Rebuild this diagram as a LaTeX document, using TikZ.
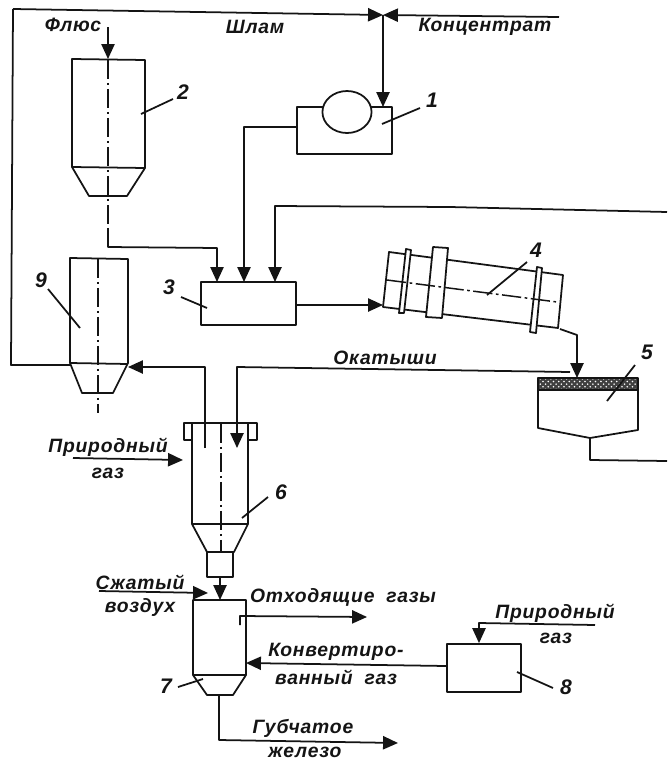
\documentclass[tikz,border=0pt]{standalone}
\usepackage{fontspec}
\newfontfamily\schemefont[LetterSpace=4]{Liberation Sans}
\usetikzlibrary{arrows.meta,patterns}
\tikzset{
  flow/.style={-{Triangle[length=8.5pt,width=7.5pt]}},
  axisline/.style={line width=0.85pt, dash pattern=on 11pt off 2pt on 1.5pt off 2pt},
  unit/.style={draw, inner sep=0pt, fill=white},
  tag/.style={font=\schemefont\bfseries\itshape\fontsize{11}{12}\selectfont, inner sep=0pt},
  num/.style={font=\schemefont\bfseries\itshape\fontsize{12}{12}\selectfont, inner sep=0pt}
}
\begin{document}
\begin{tikzpicture}[x=0.02cm, y=-0.02cm, line width=1pt, line join=round, color=black!92]
  \useasboundingbox (0,0) rectangle (667,761);
  % 2 : flux hopper
  \draw (72,59) -- (145,60) -- (145,168) -- (127,196) -- (89,196) -- (72,167) -- cycle;
  \draw (72,167) -- (145,168);
  \draw[axisline] (108,60) -- (108,228);
  \node[tag] (flux) at (73,25) {Флюс};
  \coordinate (fluxin) at (108,27);
  \coordinate (hoppertop) at (108,59);
  \draw[flow] (fluxin) -- (hoppertop);
  \node[num] (n2) at (183,92) {2};
  \coordinate (n2end) at (141,114);
  \draw (n2end) -- (173,99);
  % 9 : slurry hopper
  \draw (70,258) -- (128,259) -- (128,363) -- (113,393) -- (82,393) -- (70,363) -- cycle;
  \draw (70,363) -- (128,364);
  \draw[axisline] (98,259) -- (98,413);
  \node[num] (n9) at (41,280) {9};
  \coordinate (n9end) at (80,328);
  \draw (48,289) -- (n9end);
  % 1 : drum on its base
  \node[unit, minimum width=1.9cm, minimum height=0.94cm] (box1) at (344.5,130.5) {};
  \node[draw, fill=white, circle, inner sep=0pt, minimum size=0.84cm, xscale=1.17] (drum) at (347,112) {};
  \node[num] (n1) at (432,100) {1};
  \coordinate (n1end) at (382,124);
  \draw (n1end) -- (420,108);
  % 3 : mixer
  \node[unit, minimum width=1.9cm, minimum height=0.86cm] (box3) at (248.5,303.5) {};
  \node[num] (n3) at (169,287) {3};
  \coordinate (n3end) at (207,308);
  \draw (181,297) -- (n3end);
  % 4 : rotary kiln, tilted
  \draw (389,252) -- (563,275) -- (558,328) -- (383,307) -- cycle;
  \draw[unit] (406,249) -- (411,250) -- (404,313) -- (399,313) -- cycle;
  \draw[unit] (433,247) -- (448,248) -- (442,318) -- (426,317) -- cycle;
  \draw[unit] (537,267) -- (542,268) -- (536,333) -- (530,332) -- cycle;
  \draw[axisline] (387,280) -- (557,302);
  \node[num] (n4) at (536,250) {4};
  \coordinate (n4end) at (487,295);
  \draw (n4end) -- (527,262);
  % 5 : sintering machine, hatched strip on top
  \draw (538,390) -- (538,428) -- (590,438) -- (638,430) -- (638,390);
  \fill[black!75] (538,378) rectangle (638,390);
  \fill[pattern=crosshatch dots, pattern color=white] (538,378) rectangle (638,390);
  \draw (538,378) rectangle (638,390);
  \node[num] (n5) at (647,352) {5};
  \coordinate (n5end) at (607,401);
  \draw (n5end) -- (635,365);
  % 6 : shaft furnace
  \draw (192,440) -- (184,440) -- (184,423) -- (257,423) -- (257,440) -- (249,440);
  \draw (192,423) -- (192,524) -- (207,552) -- (234,552) -- (248,524) -- (248,423);
  \draw (192,524) -- (248,524);
  \draw (207,552) rectangle (233,577);
  \draw[axisline] (221,424) -- (221,552);
  \node[num] (n6) at (281,492) {6};
  \coordinate (n6end) at (242,518);
  \draw (n6end) -- (268,497);
  % 7 : cooler
  \draw (193,600) -- (246,600) -- (246,675) -- (233,695) -- (207,695) -- (193,675) -- cycle;
  \draw (193,675) -- (246,675);
  \node[num] (n7) at (166,686) {7};
  \coordinate (n7end) at (203,679);
  \draw (178,687) -- (n7end);
  % 8 : gas converter
  \node[unit, minimum width=1.48cm, minimum height=0.96cm] (box8) at (484,668) {};
  \node[num] (n8) at (566,687) {8};
  \coordinate (n8end) at (517,672);
  \draw (n8end) -- (553,688);
  % flows
  \coordinate (drymix) at (297,127);
  \coordinate (recycle) at (667,212);
  \coordinate (slimeend) at (205,448);
  \coordinate (pelletin) at (237,448);
  \coordinate (mixout) at (296,305);
  \coordinate (kilnin) at (383,305);
  \coordinate (kilnout) at (560,329);
  \coordinate (machinein) at (577,378);
  \draw[flow] (13,9) -- (383,15);
  \draw[flow] (559,17) -- (383,15);
  \draw[flow] (383,15) -- (383,107);
  \draw[flow] (108,228) -- (108,247) -- (217,248) -- (217,282);
  \draw[flow] (drymix) -- (244,127) -- (244,282);
  \draw[flow] (recycle) -- (450,207) -- (275,206) -- (275,282);
  \draw[flow] (mixout) -- (kilnin);
  \draw[flow] (kilnout) -- (577,335) -- (machinein);
  \draw (590,438) -- (590,460) -- (667,461);
  \draw (13,9) -- (11,365) -- (70,365);
  \draw[flow] (slimeend) -- (205,367) -- (128,367);
  \draw[flow] (570,372) -- (237,367) -- (pelletin);
  \draw[flow] (73,458) -- (183,460);
  \draw[flow] (220,577) -- (220,600);
  \draw[flow] (99,591) -- (208,593);
  \draw[flow] (240,625) -- (240,616) -- (367,617);
  \draw[flow] (box8.west |- 0,666) -- (246,663);
  \draw[flow] (595,625) -- (479,623) -- (box8.north -| 479,0);
  \draw[flow] (219,695) -- (219,740) -- (398,743);
  % stream names
  \node[tag] (slime) at (255,27) {Шлам};
  \node[tag] (conc) at (485,27) {Концентрат};
  \node[tag] (pellets) at (385,358) {Окатыши};
  \node[tag] (gas1) at (108,447) {Природный};
  \node[tag] (gas1b) at (108,473) {газ};
  \node[tag] (air1) at (140,582) {Сжатый};
  \node[tag] (air1b) at (140,607) {воздух};
  \node[tag] (offgas) at (343,597) {Отходящие\hspace{0.3em} газы};
  \node[tag] (conv1) at (336,652) {Конвертиро-};
  \node[tag] (conv1b) at (336,677) {ванный\hspace{0.3em} газ};
  \node[tag] (gas2) at (555,613) {Природный};
  \node[tag] (gas2b) at (556,638) {газ};
  \node[tag] (iron1) at (303,728) {Губчатое};
  \node[tag] (iron1b) at (305,752) {железо};
\end{tikzpicture}
\end{document}
